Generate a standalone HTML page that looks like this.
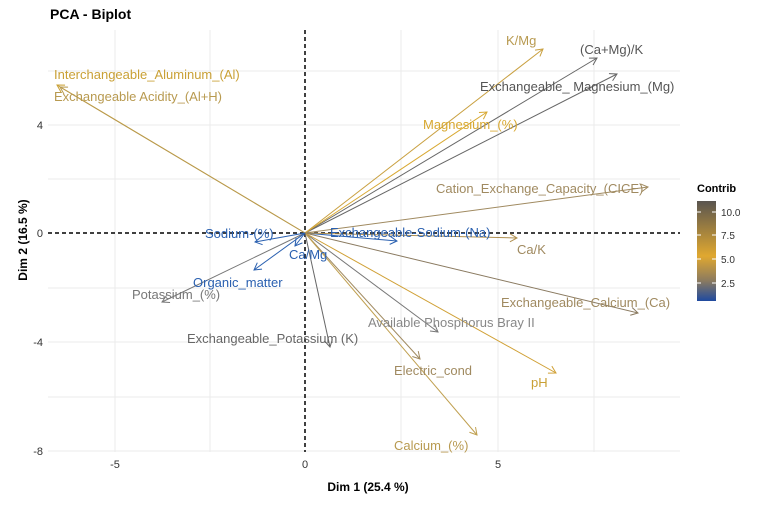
<!DOCTYPE html>
<html><head><meta charset="utf-8"><style>
body{margin:0;background:#fff}
svg{font-family:"Liberation Sans",sans-serif}
</style></head><body>
<svg width="758" height="503" xmlns="http://www.w3.org/2000/svg">
<defs>
<linearGradient id="g" x1="0" y1="0" x2="0" y2="1">
<stop offset="0" stop-color="#5a5550"/><stop offset="0.55" stop-color="#e0a830"/><stop offset="0.8" stop-color="#8a7a60"/><stop offset="1" stop-color="#1f4aa0"/>
</linearGradient>
<marker id="a" markerWidth="10" markerHeight="10" refX="8" refY="5" orient="auto" markerUnits="userSpaceOnUse"><path d="M1,1 L8,5 L1,9" fill="none" stroke="context-stroke" stroke-width="1"/></marker>
</defs>
<rect width="758" height="503" fill="#fff"/>
<text x="50" y="19" font-size="14" font-weight="bold" fill="#000">PCA - Biplot</text>
<g stroke="#ebebeb" stroke-width="1">
<line x1="115" y1="30" x2="115" y2="452"/><line x1="210" y1="30" x2="210" y2="452"/><line x1="401" y1="30" x2="401" y2="452"/><line x1="498" y1="30" x2="498" y2="452"/><line x1="594" y1="30" x2="594" y2="452"/>
<line x1="48" y1="71" x2="680" y2="71"/><line x1="48" y1="125" x2="680" y2="125"/><line x1="48" y1="179" x2="680" y2="179"/><line x1="48" y1="288" x2="680" y2="288"/><line x1="48" y1="342" x2="680" y2="342"/><line x1="48" y1="397" x2="680" y2="397"/><line x1="48" y1="451" x2="680" y2="451"/>
</g>
<g stroke="#000" stroke-width="1.5" stroke-dasharray="4,3"><line x1="48" y1="233" x2="680" y2="233"/><line x1="305" y1="30" x2="305" y2="452"/></g>
<g font-size="11" fill="#333" text-anchor="end">
<text x="43" y="129">4</text><text x="43" y="237">0</text><text x="43" y="346">-4</text><text x="43" y="455">-8</text></g>
<g font-size="11" fill="#333" text-anchor="middle"><text x="115" y="468">-5</text><text x="305" y="468">0</text><text x="498" y="468">5</text></g>
<text x="368" y="491" font-size="12" font-weight="bold" text-anchor="middle">Dim 1 (25.4 %)</text>
<text transform="translate(27,240) rotate(-90)" font-size="12" font-weight="bold" text-anchor="middle">Dim 2 (16.5 %)</text>
<g stroke-width="1" marker-end="url(#a)" fill="none">
<line x1="305" y1="233" x2="57" y2="85" stroke="#c9a035"/>
<line x1="305" y1="233" x2="60" y2="87" stroke="#b89a50"/>
<line x1="305" y1="233" x2="543" y2="49" stroke="#c9a040"/>
<line x1="305" y1="233" x2="597" y2="58" stroke="#666"/>
<line x1="305" y1="233" x2="617" y2="74" stroke="#666"/>
<line x1="305" y1="233" x2="487" y2="112" stroke="#d8a830"/>
<line x1="305" y1="233" x2="648" y2="187" stroke="#a08a60"/>
<line x1="305" y1="233" x2="397" y2="241" stroke="#2a60b0"/>
<line x1="305" y1="233" x2="517" y2="238" stroke="#b09050"/>
<line x1="305" y1="233" x2="638" y2="313" stroke="#8a7a60"/>
<line x1="305" y1="233" x2="438" y2="332" stroke="#777"/>
<line x1="305" y1="233" x2="556" y2="373" stroke="#d0a035"/>
<line x1="305" y1="233" x2="420" y2="359" stroke="#a08a60"/>
<line x1="305" y1="233" x2="477" y2="435" stroke="#c0a050"/>
<line x1="305" y1="233" x2="330" y2="347" stroke="#666"/>
<line x1="305" y1="233" x2="162" y2="302" stroke="#777"/>
<line x1="305" y1="233" x2="254" y2="270" stroke="#2a60b0"/>
<line x1="305" y1="233" x2="255" y2="242" stroke="#2a60b0"/>
<line x1="305" y1="233" x2="295" y2="246" stroke="#2a60b0"/>
</g>
<g font-size="13">
<text x="54" y="79" fill="#c9a035">Interchangeable_Aluminum_(Al)</text>
<text x="54" y="101" fill="#b89a50">Exchangeable Acidity_(Al+H)</text>
<text x="506" y="45" fill="#b89a50">K/Mg</text>
<text x="580" y="54" fill="#555">(Ca+Mg)/K</text>
<text x="480" y="91" fill="#555">Exchangeable_ Magnesium_(Mg)</text>
<text x="423" y="129" fill="#d8a830">Magnesium_(%)</text>
<text x="436" y="193" fill="#a08a60">Cation_Exchange_Capacity_(CICE)</text>
<text x="330" y="237" fill="#2a60b0">Exchangeable-Sodium-(Na)</text>
<text x="205" y="238" fill="#2a60b0">Sodium-(%)</text>
<text x="289" y="259" fill="#2a60b0">Ca/Mg</text>
<text x="517" y="254" fill="#a08a60">Ca/K</text>
<text x="193" y="287" fill="#2a60b0">Organic_matter</text>
<text x="132" y="299" fill="#777">Potassium_(%)</text>
<text x="501" y="307" fill="#a08a60">Exchangeable_Calcium_(Ca)</text>
<text x="368" y="327" fill="#888">Available Phosphorus Bray II</text>
<text x="187" y="343" fill="#666">Exchangeable_Potassium (K)</text>
<text x="394" y="375" fill="#a08a60">Electric_cond</text>
<text x="531" y="387" fill="#c9a035">pH</text>
<text x="394" y="450" fill="#b89a50">Calcium_(%)</text>
</g>
<text x="697" y="192" font-size="11" font-weight="bold">Contrib</text>
<rect x="697" y="201" width="19" height="100" fill="url(#g)"/>
<g stroke="#fff"><line x1="697" y1="212" x2="701" y2="212"/><line x1="712" y1="212" x2="716" y2="212"/><line x1="697" y1="235" x2="701" y2="235"/><line x1="712" y1="235" x2="716" y2="235"/><line x1="697" y1="259" x2="701" y2="259"/><line x1="712" y1="259" x2="716" y2="259"/><line x1="697" y1="283" x2="701" y2="283"/><line x1="712" y1="283" x2="716" y2="283"/></g>
<g font-size="10" fill="#333"><text x="721" y="216">10.0</text><text x="721" y="239">7.5</text><text x="721" y="263">5.0</text><text x="721" y="287">2.5</text></g>
</svg>
</body></html>
